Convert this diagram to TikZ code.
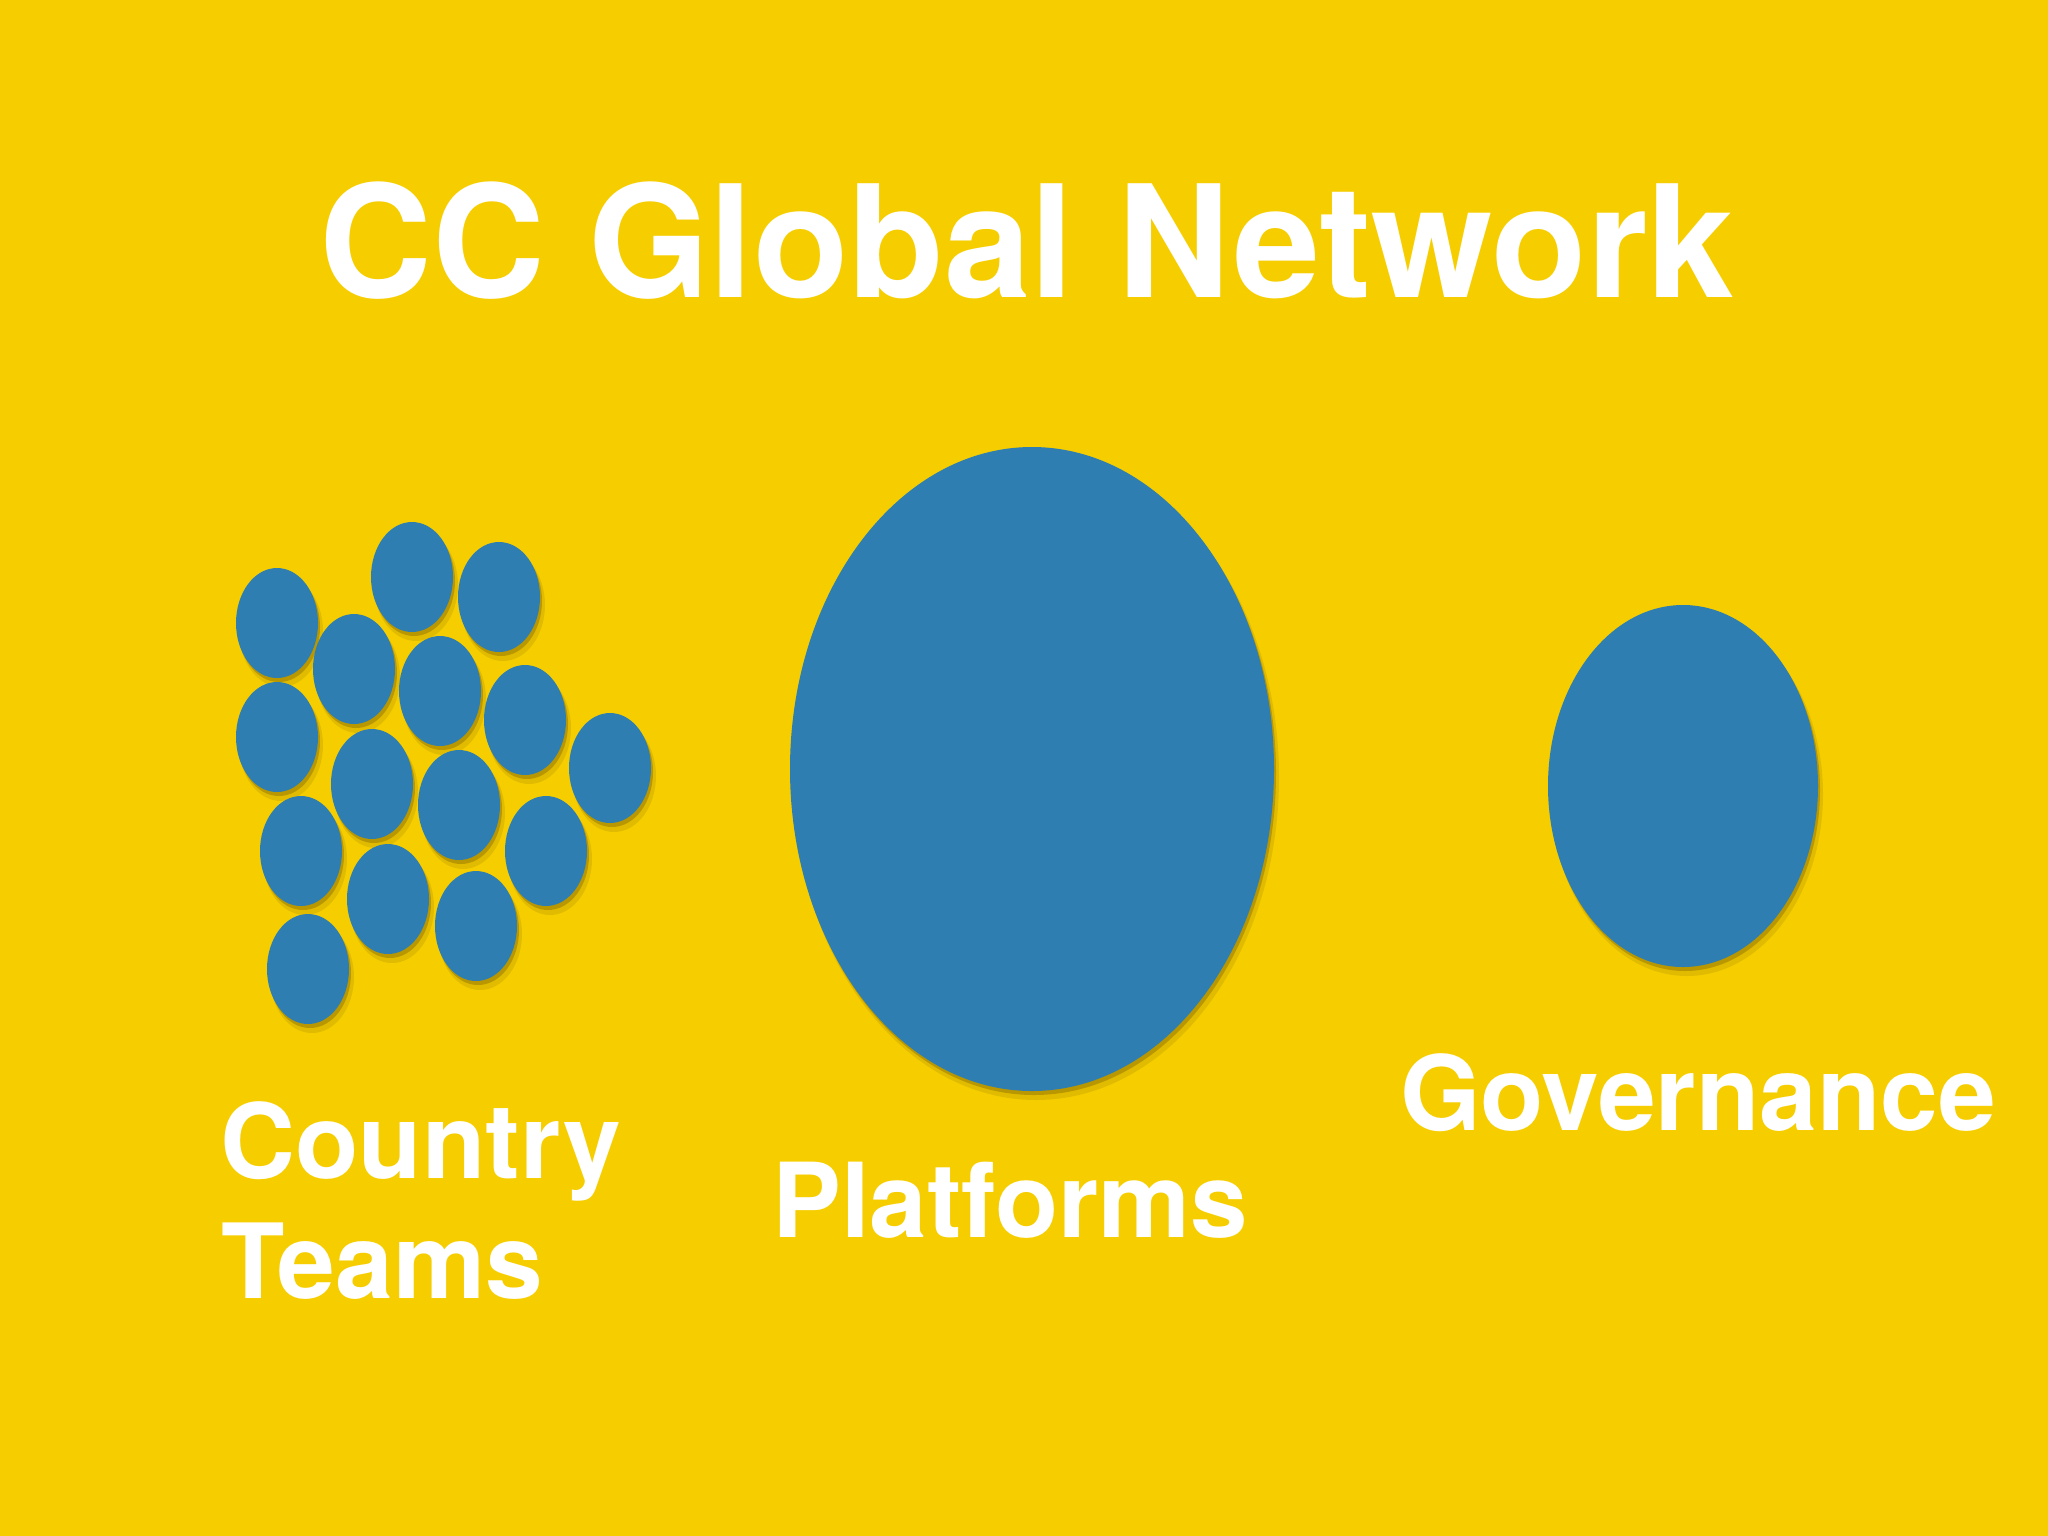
\documentclass[tikz,border=0pt]{standalone}
\usepackage{fontspec}
\setmainfont{TeX Gyre Heros}
\definecolor{bgyellow}{RGB}{246,206,0}
\definecolor{feltblue}{RGB}{46,126,178}
\definecolor{shadowcol}{RGB}{110,85,0}
\tikzset{
  label text/.style={text=white, font=\bfseries, inner sep=0pt},
}
\newcommand{\feltdisc}[4]{%
  \fill[shadowcol, opacity=0.15] (#1+4,#2+8) ellipse [x radius=#3+1, y radius=#4+1];
  \fill[shadowcol, opacity=0.35] (#1+2,#2+4) ellipse [x radius=#3, y radius=#4];
  \fill[feltblue] (#1,#2) ellipse [x radius=#3, y radius=#4];
}
\begin{document}
\begin{tikzpicture}[x=0.01cm,y=-0.01cm]
\fill[bgyellow] (0,0) rectangle (2048,1536);
\useasboundingbox (0,0) rectangle (2048,1536);

\node[label text, font=\fontsize{44.4pt}{50pt}\selectfont\bfseries, anchor=base] (title) at (1027,297) {CC Global Network};

% country teams cluster
\foreach \cx/\cy in {277/623,412/577,499/597,354/669,440/691,525/720,277/737,372/784,459/805,610/768,301/851,546/851,388/899,476/926,308/969}{
  \feltdisc{\cx}{\cy}{41}{55}
}
% platforms
\feltdisc{1032}{769}{242}{322}
% governance
\feltdisc{1683}{786}{135}{181}

\node[label text, font=\fontsize{29.5pt}{34pt}\selectfont\bfseries, anchor=base west] (country) at (220,1178) {Country};
\node[label text, font=\fontsize{29.5pt}{34pt}\selectfont\bfseries, anchor=base west] (teams) at (221,1298) {Teams};
\node[label text, font=\fontsize{29.4pt}{34pt}\selectfont\bfseries, anchor=base] (platforms) at (1010,1237) {Platforms};
\node[label text, font=\fontsize{29.5pt}{34pt}\selectfont\bfseries, anchor=base] (governance) at (1698,1130) {Governance};
\end{tikzpicture}
\end{document}
